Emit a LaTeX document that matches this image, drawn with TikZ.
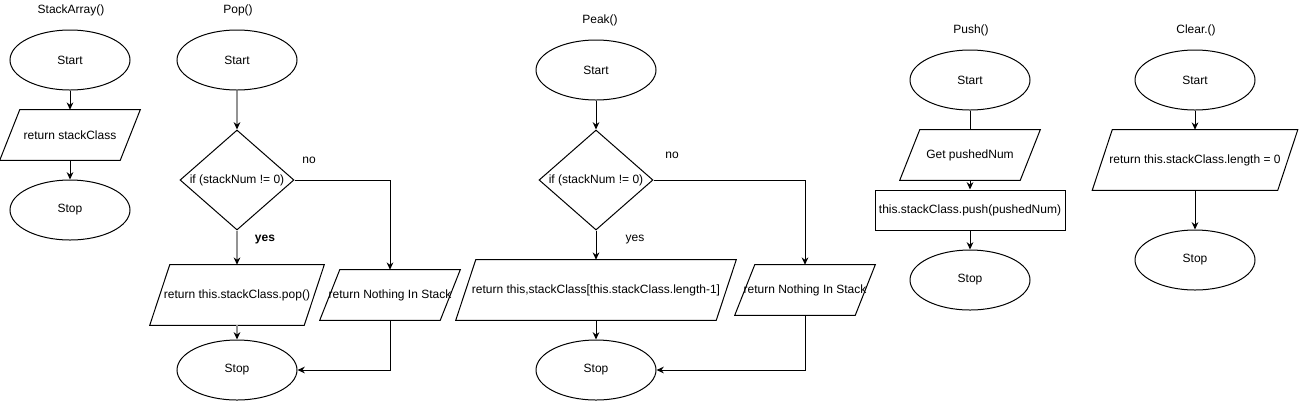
\documentclass[tikz,border=0pt]{standalone}
\usepackage{fontspec}
\setmainfont{Liberation Sans}
\usetikzlibrary{shapes.geometric,arrows.meta,calc}
\tikzset{
  base/.style={font=\fontsize{9}{11}\selectfont, text=black},
  shapeline/.style={draw=black, line width=0.75pt},
  term/.style={base, shapeline, ellipse, minimum width=90pt, minimum height=45pt, inner sep=0pt},
  decision/.style={base, shapeline, diamond, minimum width=85.5pt, minimum height=75pt, inner sep=0pt},
  process/.style={base, shapeline, rectangle, minimum width=142.5pt, minimum height=30pt, inner sep=0pt},
  paraframe/.style={base, rectangle, inner sep=0pt},
  lbl/.style={base, inner sep=1pt},
  flow/.style={line width=0.75pt, draw=black, -{Stealth[length=5.5pt,width=5pt]}},
  greyflow/.style={line width=1.3pt, draw=gray!85, -{Stealth[length=5.5pt,width=5pt,black]}},
  plainline/.style={line width=0.75pt, draw=black},
}
\newcommand\paranode[7]{%
  \node[paraframe, minimum width=#4*0.75pt, minimum height=#5*0.75pt] (#1) at (#2,#3) {\makebox[0pt]{#7}};
  \draw[shapeline] ($(#1.north west)+(#6/2,0)$) -- ($(#1.north east)+(#6/2,0)$) -- ($(#1.south east)+(-#6/2,0)$) -- ($(#1.south west)+(-#6/2,0)$) -- cycle;
}
\begin{document}
\begin{tikzpicture}[x=0.75pt,y=-0.75pt]
\useasboundingbox (0,0) rectangle (1299,401);

% ---------- StackArray ----------
\node[lbl] (t1) at (71,10) {StackArray()};
\node[term] (s1) at (70,60) {Start};
\paranode{p1}{70}{135}{120}{50}{20}{return stackClass}
\node[term] (e1) at (70,210) {Stop};
\draw[flow] (s1.south) -- (p1.north);
\draw[flow] (p1.south) -- (e1.north);

% ---------- Pop ----------
\node[lbl] (t2) at (238,10) {Pop()};
\node[term] (s2) at (237,60) {Start};
\node[decision, minimum width=85.5pt] (d2) at (237,180) {\makebox[0pt]{if (stackNum != 0)}};
\paranode{p2a}{237}{295}{154}{60}{20}{return this.stackClass.pop()}
\paranode{p2b}{390}{295}{120}{50}{20}{return Nothing In Stack}
\node[term] (e2) at (237,370) {Stop};
\node[lbl] (no2) at (309,160) {no};
\node[lbl, font=\fontsize{9}{11}\selectfont\bfseries] (yes2) at (265,240) {yes};
\draw[greyflow] (s2.south) -- (d2.north);
\draw[greyflow] (d2.south) -- (p2a.north);
\draw[greyflow] (p2a.south) -- (e2.north);
\draw[flow] (d2.east) -| (p2b.north);
\draw[flow] (p2b.south) |- (e2.east);

% ---------- Peak ----------
\node[lbl] (t3) at (600,20) {Peak()};
\node[term] (s3) at (596,70) {Start};
\node[decision] (d3) at (596,180) {\makebox[0pt]{if (stackNum != 0)}};
\paranode{p3a}{596}{290}{260}{60}{20}{return this,stackClass[this.stackClass.length-1]}
\paranode{p3b}{805}{290}{120}{50}{20}{return Nothing In Stack}
\node[term] (e3) at (596,370) {Stop};
\node[lbl] (no3) at (672,155) {no};
\node[lbl] (yes3) at (635,240) {yes};
\draw[flow] (s3.south) -- (d3.north);
\draw[flow] (d3.south) -- (p3a.north);
\draw[flow] (p3a.south) -- (e3.north);
\draw[flow] (d3.east) -| (p3b.north);
\draw[flow] (p3b.south) |- (e3.east);

% ---------- Push ----------
\node[lbl] (t4) at (971,30) {Push()};
\node[term] (s4) at (970,80) {Start};
\paranode{p4}{970}{155}{120}{50}{20}{Get pushedNum}
\node[process] (r4) at (970,210) {this.stackClass.push(pushedNum)};
\node[term] (e4) at (970,280) {Stop};
\draw[plainline] (s4.south) -- (p4.north);
\draw[flow] (p4.south) -- (r4.north);
\draw[flow] (r4.south) -- (e4.north);

% ---------- Clear ----------
\node[lbl] (t5) at (1196,30) {Clear.()};
\node[term] (s5) at (1195,80) {Start};
\paranode{p5}{1195}{160}{185}{60}{20}{return this.stackClass.length = 0}
\node[term] (e5) at (1195,260) {Stop};
\draw[flow] (s5.south) -- (p5.north);
\draw[flow] (p5.south) -- (e5.north);
\end{tikzpicture}
\end{document}
